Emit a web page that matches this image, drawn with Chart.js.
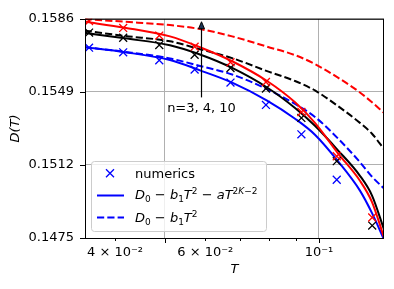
<!DOCTYPE html>
<html>
<head>
<meta charset="utf-8">
<script src="https://cdn.jsdelivr.net/npm/chart.js@4.4.1/dist/chart.umd.min.js"></script>
<style>
  html, body { margin: 0; padding: 0; background: #fff; }
</style>
</head>
<body>
<canvas id="chart" width="394" height="289"></canvas>
<script>
// numerics (x markers)
const T_NUM = [0.0356, 0.0415, 0.0488, 0.0572, 0.0672, 0.0788, 0.0924, 0.1083, 0.1270];
const NUM_RED   = [0.15849, 0.15814, 0.15775, 0.15719, 0.15640, 0.15540, 0.15388, 0.15164, 0.14854];
const NUM_BLACK = [0.15790, 0.15764, 0.15727, 0.15678, 0.15611, 0.15507, 0.15358, 0.15139, 0.14813];
const NUM_BLUE  = [0.15714, 0.15690, 0.15650, 0.15603, 0.15537, 0.15424, 0.15275, 0.15045, 0.14680];

// fitted curves
const T_FIT = [0.0349, 0.0418, 0.0512, 0.0586, 0.0677, 0.0792, 0.0898, 0.0982, 0.1089, 0.1202, 0.1269, 0.1340];
const FULL_RED   = [0.15845, 0.15815, 0.15771, 0.15716, 0.15645, 0.15545, 0.15437, 0.15333, 0.15179, 0.15040, 0.14932, 0.14751];
const FULL_BLACK = [0.15789, 0.15761, 0.15726, 0.15679, 0.15611, 0.15512, 0.15408, 0.15318, 0.15194, 0.15065, 0.14965, 0.14791];
const FULL_BLUE  = [0.15716, 0.15691, 0.15651, 0.15599, 0.15537, 0.15446, 0.15354, 0.15273, 0.15139, 0.14990, 0.14876, 0.14741];
const LOW_RED    = [0.15859, 0.15845, 0.15828, 0.15808, 0.15771, 0.15719, 0.15676, 0.15631, 0.15562, 0.15487, 0.15437, 0.15383];
const LOW_BLACK  = [0.15800, 0.15773, 0.15746, 0.15706, 0.15661, 0.15595, 0.15545, 0.15497, 0.15418, 0.15333, 0.15278, 0.15199];
const LOW_BLUE   = [0.15716, 0.15693, 0.15659, 0.15621, 0.15578, 0.15504, 0.15429, 0.15363, 0.15254, 0.15134, 0.15060, 0.15000];

const Y_TICKS = [0.1475, 0.1512, 0.1549, 0.1586];
const X_TICKS = [0.04, 0.05, 0.06, 0.07, 0.08, 0.09, 0.1];
const X_TICK_LABELS = ['4 × 10⁻²', '', '6 × 10⁻²', '', '', '', '10⁻¹'];
const X_MAJOR = [0.05, 0.1];

// annotation
const ARROW_T = 0.0589;
const ARROW_FROM = 0.15462;
const ARROW_TO = 0.15845;
const NOTE_D = 0.15388;
const NOTE = 'n=3, 4, 10';

const FONT = '"DejaVu Sans", sans-serif';
const DASH = [7.2, 3.1];

const pts = (xs, ys) => xs.map((t, i) => ({ x: t, y: ys[i] }));

function marks(ys, color) {
  return {
    data: pts(T_NUM, ys), showLine: false, pointStyle: 'crossRot',
    pointRadius: 5.6, pointBorderWidth: 1.3, borderColor: color, backgroundColor: color
  };
}
function curve(ys, color, dashed) {
  return {
    data: pts(T_FIT, ys), borderColor: color, borderWidth: 2, pointRadius: 0,
    borderDash: dashed ? DASH : [], cubicInterpolationMode: 'monotone', fill: false
  };
}

function drawRuns(ctx, x, yb, runs) {
  for (const r of runs) {
    const size = r.s || 13;
    ctx.font = (r.i ? 'italic ' : '') + size + 'px ' + FONT;
    ctx.fillText(r.t, x, yb + (r.dy || 0));
    x += ctx.measureText(r.t).width;
  }
}

const SUB = { s: 9, dy: 2.5 };
const SUP = { s: 9, dy: -5.5 };
const LOW_RUNS = [
  { t: 'D', i: 1 }, { t: '0', ...SUB }, { t: ' − ' }, { t: 'b', i: 1 }, { t: '1', ...SUB },
  { t: 'T', i: 1 }, { t: '2', ...SUP }
];
const FULL_RUNS = LOW_RUNS.concat([
  { t: ' − ' }, { t: 'a', i: 1 }, { t: 'T', i: 1 }, { t: '2', ...SUP }, { t: 'K', i: 1, ...SUP }, { t: '−2', ...SUP }
]);

const deco = {
  id: 'deco',
  afterDraw(chart) {
    const { ctx, chartArea: a, scales: { x, y } } = chart;
    ctx.save();

    // arrow + note
    const ax = Math.round(x.getPixelForValue(ARROW_T)) + 0.5;
    const y0 = y.getPixelForValue(ARROW_FROM), y1 = y.getPixelForValue(ARROW_TO);
    ctx.strokeStyle = '#000'; ctx.lineWidth = 1.2;
    ctx.beginPath(); ctx.moveTo(ax, y0); ctx.lineTo(ax, y1 + 6); ctx.stroke();
    ctx.fillStyle = '#1d3557'; ctx.lineWidth = 1;
    ctx.beginPath(); ctx.moveTo(ax, y1); ctx.lineTo(ax - 3, y1 + 7); ctx.lineTo(ax + 3, y1 + 7); ctx.closePath();
    ctx.fill(); ctx.stroke();
    ctx.fillStyle = '#000'; ctx.font = '13px ' + FONT;
    ctx.textAlign = 'center'; ctx.textBaseline = 'alphabetic';
    ctx.fillText(NOTE, ax, y.getPixelForValue(NOTE_D));

    // frame
    ctx.strokeStyle = '#000'; ctx.lineWidth = 1;
    ctx.strokeRect(a.left + 0.5, a.top + 0.5, a.right - a.left - 1, a.bottom - a.top);

    // tick marks
    ctx.beginPath();
    X_TICKS.forEach(v => {
      const px = Math.round(x.getPixelForValue(v)) + 0.5;
      const len = X_MAJOR.includes(v) ? 5 : 3;
      ctx.moveTo(px, a.bottom); ctx.lineTo(px, a.bottom + len);
    });
    Y_TICKS.forEach(v => {
      const py = Math.round(y.getPixelForValue(v)) + 0.5;
      ctx.moveTo(a.left - 5, py); ctx.lineTo(a.left, py);
    });
    ctx.stroke();

    // axis titles
    ctx.font = 'italic 13px ' + FONT; ctx.textAlign = 'center'; ctx.textBaseline = 'middle';
    ctx.fillText('T', (a.left + a.right) / 2, 270);
    ctx.save();
    ctx.translate(16, (a.top + a.bottom) / 2);
    ctx.rotate(-Math.PI / 2);
    ctx.fillText('D(T)', 0, 0);
    ctx.restore();

    // legend
    const lx = 91.5, ly = 161.5, lw = 175, lh = 70;
    ctx.beginPath();
    ctx.roundRect(lx, ly, lw, lh, 3);
    ctx.fillStyle = 'rgba(255,255,255,0.8)'; ctx.fill();
    ctx.strokeStyle = '#cccccc'; ctx.lineWidth = 1; ctx.stroke();

    ctx.strokeStyle = '#0000ff'; ctx.lineWidth = 1.3;
    ctx.beginPath();
    ctx.moveTo(106, 169.3); ctx.lineTo(114, 177.3);
    ctx.moveTo(114, 169.3); ctx.lineTo(106, 177.3);
    ctx.stroke();
    ctx.lineWidth = 2;
    ctx.beginPath(); ctx.moveTo(97, 195.5); ctx.lineTo(124, 195.5); ctx.stroke();
    ctx.setLineDash(DASH);
    ctx.beginPath(); ctx.moveTo(97, 217.5); ctx.lineTo(124, 217.5); ctx.stroke();
    ctx.setLineDash([]);

    ctx.fillStyle = '#000'; ctx.textAlign = 'left'; ctx.textBaseline = 'alphabetic';
    ctx.font = '13px ' + FONT;
    ctx.fillText('numerics', 135, 178);
    drawRuns(ctx, 135, 199, FULL_RUNS);
    drawRuns(ctx, 135, 222, LOW_RUNS);

    ctx.restore();
  }
};

new Chart(document.getElementById('chart'), {
  type: 'line',
  data: {
    datasets: [
      marks(NUM_RED, '#ff0000'),
      marks(NUM_BLACK, '#000000'),
      marks(NUM_BLUE, '#0000ff'),
      curve(FULL_RED, '#ff0000', false),
      curve(FULL_BLACK, '#000000', false),
      curve(FULL_BLUE, '#0000ff', false),
      curve(LOW_RED, '#ff0000', true),
      curve(LOW_BLACK, '#000000', true),
      curve(LOW_BLUE, '#0000ff', true)
    ]
  },
  options: {
    responsive: false,
    animation: false,
    layout: { padding: { top: 15, right: 10, left: 0, bottom: 0 } },
    plugins: { legend: { display: false }, tooltip: { enabled: false } },
    scales: {
      x: {
        type: 'logarithmic',
        min: 0.034957,
        max: 0.13391,
        afterBuildTicks: s => { s.ticks = X_TICKS.map(v => ({ value: v })); },
        afterFit: s => { s.height = 51; },
        border: { display: false },
        grid: {
          drawTicks: false, lineWidth: 1,
          color: c => (c.tick && X_MAJOR.includes(c.tick.value)) ? '#b0b0b0' : 'rgba(0,0,0,0)'
        },
        ticks: {
          autoSkip: false, maxRotation: 0, minRotation: 0, padding: 7,
          color: '#000', font: { family: FONT, size: 13 },
          callback: (v, i) => X_TICK_LABELS[i]
        }
      },
      y: {
        min: 0.1475,
        max: 0.1586,
        afterBuildTicks: s => { s.ticks = Y_TICKS.map(v => ({ value: v })); },
        afterFit: s => { s.width = 85; },
        border: { display: false },
        grid: { drawTicks: false, lineWidth: 1, color: '#b0b0b0' },
        ticks: {
          padding: 11, color: '#000', font: { family: FONT, size: 13 },
          callback: v => v.toFixed(4)
        }
      }
    }
  },
  plugins: [deco]
});
</script>
</body>
</html>
